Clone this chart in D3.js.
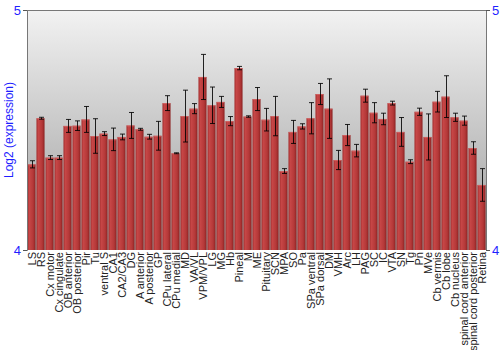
<!DOCTYPE html>
<html>
<head>
<meta charset="utf-8">
<script src="https://cdn.jsdelivr.net/npm/d3@7"></script>
<style>
  body { margin: 0; background: #fff; }
  text { font-family: Arial, "Liberation Sans", sans-serif; }
</style>
</head>
<body>
<div id="chart"></div>
<script>
// tissues along the x axis
let tissues = ['LS', 'RS', 'Cx motor', 'Cx cingulate', 'OB anterior', 'OB posterior', 'Pir', 'Tu',
  'ventral S', 'CA1', 'CA2/CA3', 'DG', 'A anterior', 'A posterior', 'GP', 'CPu lateral', 'CPu medial',
  'MD', 'VA/VL', 'VPM/VPL', 'LG', 'MG', 'Hb', 'Pineal', 'M', 'ME', 'Pituitary', 'SCN', 'MPA', 'SO',
  'Pa', 'SPa ventral', 'SPa dorsal', 'DM', 'VMH', 'Arc', 'LH', 'PAG', 'SC', 'IC', 'VTA', 'SN', 'Tg',
  'Pn', 'MVe', 'Cb vermis', 'Cb lobe', 'Cb nucleus', 'spinal cord anterior', 'spinal cord posterior',
  'Retina'];

// log2 expression, mean
let expression = [4.357, 4.549, 4.385, 4.385, 4.517, 4.518, 4.544, 4.475,
  4.485, 4.461, 4.471, 4.519, 4.503, 4.472, 4.476, 4.612, 4.403,
  4.558, 4.589, 4.721, 4.603, 4.617, 4.537, 4.758, 4.556, 4.629, 4.543, 4.558, 4.329, 4.492,
  4.515, 4.549, 4.65, 4.589, 4.375, 4.479, 4.414, 4.643, 4.572, 4.546, 4.612, 4.492, 4.368,
  4.576, 4.471, 4.618, 4.639, 4.553, 4.539, 4.425,
  4.271];

// error (half height of the error bar)
let errors = [0.015, 0.004, 0.008, 0.008, 0.027, 0.02, 0.054, 0.072,
  0.008, 0.047, 0.012, 0.054, 0.004, 0.01, 0.06, 0.031, 0.002,
  0.108, 0.021, 0.094, 0.076, 0.023, 0.019, 0.007, 0.003, 0.048, 0.047, 0.082, 0.01, 0.048,
  0.011, 0.065, 0.044, 0.124, 0.04, 0.044, 0.026, 0.027, 0.042, 0.024, 0.008, 0.06, 0.008,
  0.015, 0.096, 0.043, 0.087, 0.017, 0.019, 0.026,
  0.068];

let yTicks = [4, 5];

let width = 500, height = 350;
let margin = { top: 10, right: 14, bottom: 100, left: 27 };
let w = width - margin.left - margin.right;
let h = height - margin.top - margin.bottom;

let data = tissues.map((t, i) => ({ name: t, value: expression[i], err: errors[i] }));

let svg = d3.select('#chart')
  .append('svg')
  .attr('width', width)
  .attr('height', height);

let defs = svg.append('defs');
let bg = defs.append('linearGradient')
  .attr('id', 'bg')
  .attr('x1', 0).attr('y1', 0).attr('x2', 0).attr('y2', 1);
bg.append('stop').attr('offset', '0%').attr('stop-color', '#f2f2f2');
bg.append('stop').attr('offset', '100%').attr('stop-color', '#9c9c9c');

let barGrad = defs.append('linearGradient')
  .attr('id', 'bar')
  .attr('x1', 0).attr('y1', 0).attr('x2', 1).attr('y2', 0);
barGrad.append('stop').attr('offset', '0%').attr('stop-color', '#a53030');
barGrad.append('stop').attr('offset', '25%').attr('stop-color', '#c64646');
barGrad.append('stop').attr('offset', '70%').attr('stop-color', '#b43838');
barGrad.append('stop').attr('offset', '100%').attr('stop-color', '#8c2222');

let g = svg.append('g')
  .attr('transform', 'translate(' + margin.left + ',' + margin.top + ')');

let xScale = d3.scaleBand()
  .domain(tissues)
  .range([0, w])
  .paddingInner(0.1)
  .paddingOuter(0.05);

let yScale = d3.scaleLinear()
  .domain([4, 5])
  .range([h, 0]);

// plot background
g.append('rect')
  .attr('width', w)
  .attr('height', h)
  .attr('fill', 'url(#bg)');

// bars
g.selectAll('rect.bar')
  .data(data)
  .enter()
  .append('rect')
  .attr('class', 'bar')
  .attr('x', d => xScale(d.name))
  .attr('y', d => yScale(d.value))
  .attr('width', xScale.bandwidth())
  .attr('height', d => h - yScale(d.value))
  .attr('fill', 'url(#bar)');

// top highlight of each bar
g.selectAll('line.hl')
  .data(data)
  .enter()
  .append('line')
  .attr('class', 'hl')
  .attr('x1', d => xScale(d.name))
  .attr('x2', d => xScale(d.name) + xScale.bandwidth())
  .attr('y1', d => yScale(d.value) + 0.5)
  .attr('y2', d => yScale(d.value) + 0.5)
  .attr('stroke', '#d56a6a')
  .attr('stroke-opacity', 0.7);

// error bars
let eb = g.selectAll('g.err')
  .data(data)
  .enter()
  .append('g')
  .attr('class', 'err')
  .attr('stroke', '#000')
  .attr('stroke-opacity', 0.85)
  .attr('stroke-width', 1);
let cx = d => Math.round(xScale(d.name) + xScale.bandwidth() / 2) + 0.5;
eb.append('line')
  .attr('x1', cx).attr('x2', cx)
  .attr('y1', d => yScale(d.value + d.err))
  .attr('y2', d => yScale(d.value - d.err));
eb.append('line')
  .attr('x1', d => cx(d) - 2.5).attr('x2', d => cx(d) + 2.5)
  .attr('y1', d => yScale(d.value + d.err))
  .attr('y2', d => yScale(d.value + d.err));
eb.append('line')
  .attr('x1', d => cx(d) - 2.5).attr('x2', d => cx(d) + 2.5)
  .attr('y1', d => yScale(d.value - d.err))
  .attr('y2', d => yScale(d.value - d.err));

// axes
let leftAxis = d3.axisLeft(yScale).tickValues(yTicks).tickFormat(d3.format('d')).tickSize(4).tickPadding(2);
let rightAxis = d3.axisRight(yScale).tickValues(yTicks).tickFormat(d3.format('d')).tickSize(4).tickPadding(2);

let la = g.append('g').call(leftAxis);
let ra = g.append('g').attr('transform', 'translate(' + w + ',0)').call(rightAxis);
[la, ra].forEach(a => {
  a.select('.domain').attr('stroke', '#777');
  a.selectAll('.tick line').attr('stroke', '#555');
  a.selectAll('.tick text')
    .attr('fill', '#1f1fff')
    .style('font-size', '13px');
});

// top border
g.append('line')
  .attr('x1', 0).attr('x2', w)
  .attr('y1', 0.5).attr('y2', 0.5)
  .attr('stroke', '#777');

// x labels
g.selectAll('text.xl')
  .data(data)
  .enter()
  .append('text')
  .attr('class', 'xl')
  .attr('transform', d => 'translate(' + (xScale(d.name) + xScale.bandwidth() / 2 + 4) + ',' + (h + 2) + ') rotate(-90)')
  .style('text-anchor', 'end')
  .style('font-size', '11px')
  .attr('fill', '#222')
  .text(d => d.name);

// y title
svg.append('text')
  .attr('transform', 'translate(13,' + (margin.top + h / 2) + ') rotate(-90)')
  .style('text-anchor', 'middle')
  .style('font-size', '12px')
  .attr('fill', '#1f1fff')
  .text('Log2 (expression)');
</script>
</body>
</html>
